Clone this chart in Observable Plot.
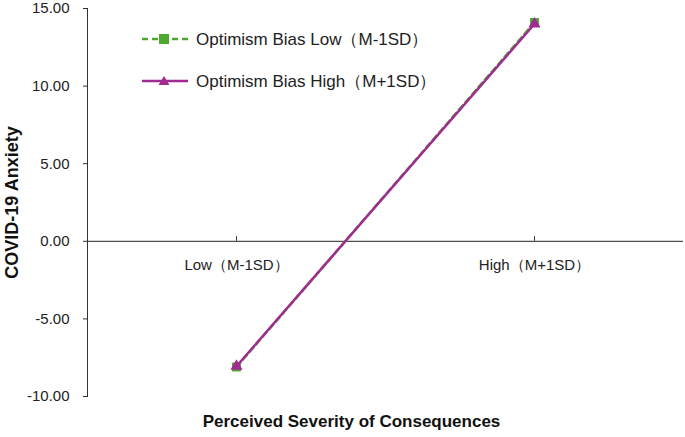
<!DOCTYPE html>
<html><head><meta charset="utf-8">
<script src="https://cdn.jsdelivr.net/npm/d3@7"></script>
<script src="https://cdn.jsdelivr.net/npm/@observablehq/plot@0.6"></script>
<style>
body{margin:0;background:#fff;font-family:"Liberation Sans",Arial,sans-serif;}
#wrap{position:relative;width:685px;height:437px;}
#legend{position:absolute;left:140px;top:18px;font-size:17px;color:#222;}
.lg{display:flex;align-items:center;height:42px;}
.lg svg{margin-right:6px;}
</style></head>
<body><div id="wrap"><div id="chart"></div>
<div id="legend"></div></div>
<script>
const categories = ["Low（M-1SD）", "High（M+1SD）"];
const seriesNames = ["Optimism Bias Low（M-1SD）", "Optimism Bias High（M+1SD）"];
const lowBias = [-8.1, 14.1];
const highBias = [-8.05, 14.0];
const yTicks = [-10, -5, 0, 5, 10, 15];
const colors = ["#4EA72E", "#A02B93"];

const data = [];
categories.forEach((c, i) => {
  data.push({series: seriesNames[0], cat: c, v: lowBias[i]});
  data.push({series: seriesNames[1], cat: c, v: highBias[i]});
});
const s0 = data.filter(d => d.series === seriesNames[0]);
const s1 = data.filter(d => d.series === seriesNames[1]);
const fmt = d => d.toFixed(2);

const chart = Plot.plot({
  width: 685, height: 437,
  marginLeft: 87, marginRight: 2, marginTop: 8, marginBottom: 41,
  style: {fontFamily: "Liberation Sans, Arial, sans-serif", fontSize: "13px", color: "#333"},
  x: {type: "point", domain: categories, padding: 0.5, axis: null},
  y: {domain: [-10, 15], ticks: yTicks, tickFormat: fmt},
  marks: [
    Plot.axisY({ticks: yTicks, tickFormat: fmt, tickSize: 4, tickPadding: 14, label: null, fontSize: 15, stroke: "#333", fill: "#222"}),
    Plot.frame({anchor: "left", stroke: "#333"}),
    Plot.ruleY([0], {stroke: "#222", strokeWidth: 1}),
    Plot.ruleX(categories, {x: d => d, y1: 0, y2: 0.3, stroke: "#333"}),
    Plot.text(categories, {x: d => d, y: 0, dy: 24, text: d => d, fontSize: 15, fill: "#222"}),
    Plot.line(s0, {x: "cat", y: "v", stroke: colors[0], strokeWidth: 2.5, strokeDasharray: "6,4"}),
    Plot.dot(s0, {x: "cat", y: "v", symbol: "square", r: 5, fill: colors[0]}),
    Plot.line(s1, {x: "cat", y: "v", stroke: colors[1], strokeWidth: 2.5}),
    Plot.dot(s1, {x: "cat", y: "v", symbol: "triangle", r: 4.5, fill: colors[1]}),
    Plot.text(["COVID-19 Anxiety"], {frameAnchor: "left", textAnchor: "middle", dx: -75, rotate: -90, text: d => d, fontWeight: "bold", fontSize: 18, fill: "#111"}),
    Plot.text(["Perceived Severity of Consequences"], {frameAnchor: "bottom", dy: 30, dx: -34, text: d => d, fontWeight: "bold", fontSize: 17, fill: "#111"})
  ]
});
document.getElementById("chart").appendChild(chart);

const leg = document.getElementById("legend");
seriesNames.forEach((n, i) => {
  const row = document.createElement("div");
  row.className = "lg";
  const dash = i === 0 ? 'stroke-dasharray="6,4"' : '';
  const marker = i === 0
    ? `<rect x="19" y="6" width="10" height="10" fill="${colors[0]}"/>`
    : `<path d="M24,6 L29.5,15 L18.5,15 Z" fill="${colors[1]}"/>`;
  row.innerHTML = `<svg width="50" height="22"><line x1="2" y1="11" x2="48" y2="11" stroke="${colors[i]}" stroke-width="2.5" ${dash}/>${marker}</svg><span>${n}</span>`;
  leg.appendChild(row);
});
</script></body></html>
